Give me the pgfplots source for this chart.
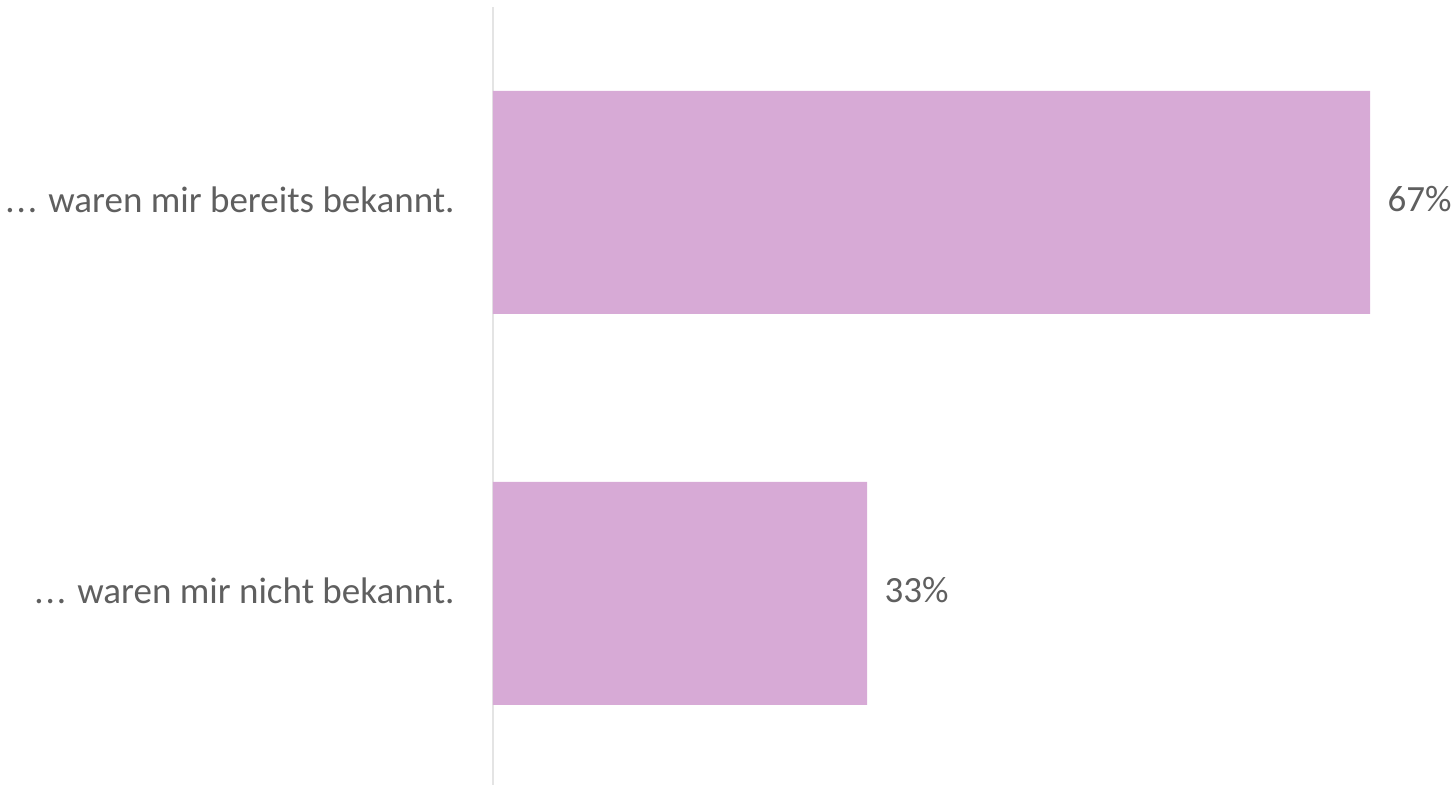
\documentclass[border=0pt]{standalone}
\usepackage{fontspec}
\setmainfont{Carlito}
\usepackage{pgfplots}
\pgfplotsset{compat=1.18}
\definecolor{barpink}{RGB}{215,170,214}
\definecolor{txtgray}{RGB}{95,95,95}
\definecolor{axgray}{RGB}{228,228,228}
\newcommand\lblnicht{.\kern1pt.\kern1pt. waren mir nicht bekannt.}
\newcommand\lblbereits{.\kern1pt.\kern1pt. waren mir bereits bekannt.}

\begin{document}
\begin{tikzpicture}
\begin{axis}[
    scale only axis,
    width=481pt, height=389pt,
    xbar,
    bar width=111.5pt,
    xmin=7.7, xmax=72.74,
    ymin=-0.49, ymax=1.5,
    ytick={0,1},
    yticklabels={\lblnicht, \lblbereits},
    axis y line*=left,
    axis x line=none,
    y axis line style={draw=axgray, line width=1pt, -},
    major tick length=0pt,
    tick style={draw=none},
    yticklabel style={font=\fontsize{18.5}{22}\selectfont, text=txtgray, inner sep=0pt, xshift=-19pt, yshift=1.5pt},
    /pgf/number format/assume math mode=true,
    nodes near coords={\pgfmathprintnumber{\pgfplotspointmeta}\%},
    nodes near coords style={font=\fontsize{18.5}{22}\selectfont, text=txtgray, anchor=west, inner sep=0pt, xshift=8.5pt, yshift=1.5pt},
]
\addplot[fill=barpink, draw=none] coordinates {
    (67,1)
    (33,0)
};
\end{axis}
\pgfresetboundingbox
\useasboundingbox ([xshift=-246.5pt,yshift=3.5pt]current axis.north west) rectangle (current axis.south east);
\end{tikzpicture}
\end{document}
